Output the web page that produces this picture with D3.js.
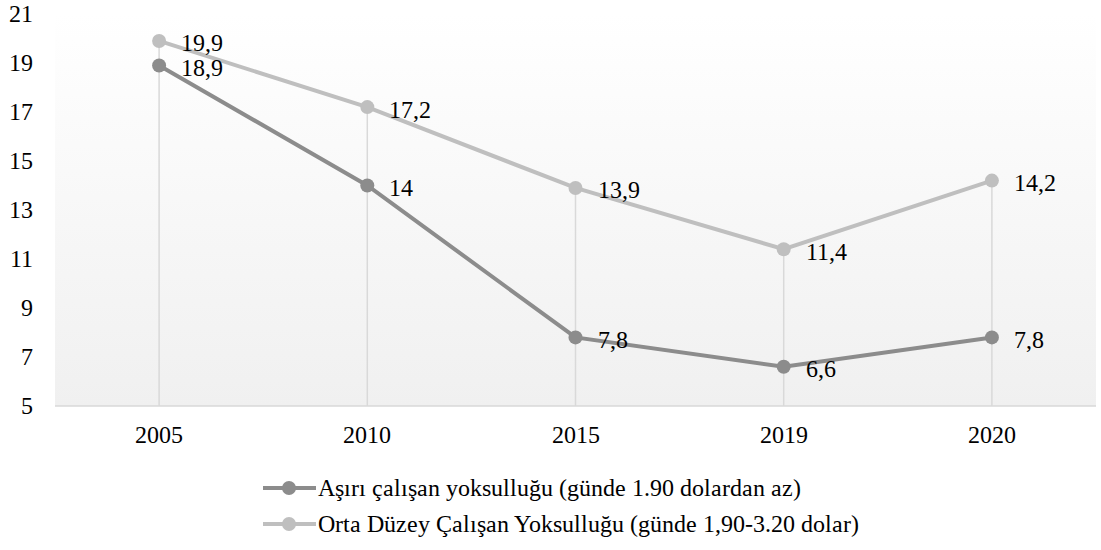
<!DOCTYPE html>
<html><head><meta charset="utf-8">
<script src="https://cdn.jsdelivr.net/npm/d3@7"></script>
<style>
@font-face{font-family:"ChartSerif";src:local("Liberation Serif"),local("LiberationSerif"),local("LiberationSerif-Regular"),local("Times New Roman");}
html,body{margin:0;font-family:"ChartSerif","Liberation Serif",serif}
</style>
</head><body>
<svg id="c" width="1101" height="550"></svg>
<script>
const categories = ["2005","2010","2015","2019","2020"];
const extreme = [18.9,14,7.8,6.6,7.8];
const moderate = [19.9,17.2,13.9,11.4,14.2];
const yTicks = [5,7,9,11,13,15,17,19,21];
const seriesNames = ["Aşırı çalışan yoksulluğu (günde 1.90 dolardan az)","Orta Düzey Çalışan Yoksulluğu (günde 1,90-3.20 dolar)"];
const colors = ["#8c8c8c","#bfbfbf"];

const FONT = "ChartSerif, 'Liberation Serif', serif";
const FS = 24;
const svg = d3.select("#c");
const L=55,R=1096,T=14,B=406;
const x = d3.scaleBand().domain(categories).range([L,R]);
const y = d3.scaleLinear().domain([5,21]).range([B,T]);
const cx = d => x(d)+x.bandwidth()/2;
const styleText = sel => sel.attr("font-family",FONT).attr("font-size",FS).attr("fill","#000");

const defs = svg.append("defs");
const g = defs.append("linearGradient").attr("id","bg").attr("x1",0).attr("y1",0).attr("x2",0).attr("y2",1);
g.append("stop").attr("offset","0").attr("stop-color","#ffffff");
g.append("stop").attr("offset","1").attr("stop-color","#f0f0f0");
svg.append("rect").attr("x",L).attr("y",T).attr("width",R-L).attr("height",B-T).attr("fill","url(#bg)");

categories.forEach((c,i)=>{
  svg.append("line").attr("x1",cx(c)).attr("x2",cx(c)).attr("y1",y(Math.max(extreme[i],moderate[i]))).attr("y2",B)
    .attr("stroke","#d9d9d9").attr("stroke-width",1.5);
});
svg.append("line").attr("x1",L).attr("x2",R).attr("y1",B).attr("y2",B).attr("stroke","#d9d9d9").attr("stroke-width",1.5);

const ya = svg.append("g").attr("transform",`translate(${L},0)`).call(d3.axisLeft(y).tickValues(yTicks).tickSize(0).tickPadding(22).tickFormat(d3.format("d")));
ya.attr("font-family",FONT).attr("font-size",FS);
ya.select(".domain").remove();
styleText(ya.selectAll("text"));
const xa = svg.append("g").attr("transform",`translate(0,${B})`).call(d3.axisBottom(x).tickSize(0).tickPadding(20));
xa.attr("font-family",FONT).attr("font-size",FS);
xa.select(".domain").remove();
styleText(xa.selectAll("text"));

const line = d3.line().x((d,i)=>cx(categories[i])).y(d=>y(d));
const fmt = v => String(v).replace(".",",");
const series = [extreme, moderate];
[1,0].forEach(s=>{
  const data = series[s];
  svg.append("path").attr("d",line(data)).attr("fill","none").attr("stroke",colors[s]).attr("stroke-width",4);
  svg.selectAll(null).data(data).enter().append("circle").attr("cx",(d,i)=>cx(categories[i])).attr("cy",d=>y(d)).attr("r",7).attr("fill",colors[s]);
  styleText(svg.selectAll(null).data(data).enter().append("text").attr("x",(d,i)=>cx(categories[i])+22).attr("y",d=>y(d)+2)
    .attr("dy","0.35em").text(d=>fmt(d)));
});

seriesNames.forEach((n,i)=>{
  const ly = 488 + i*36;
  svg.append("line").attr("x1",263).attr("x2",316).attr("y1",ly).attr("y2",ly).attr("stroke",colors[i]).attr("stroke-width",4);
  svg.append("circle").attr("cx",289).attr("cy",ly).attr("r",7).attr("fill",colors[i]);
  styleText(svg.append("text").attr("x",318).attr("y",ly).attr("dy","0.35em").text(n));
});
</script></body></html>
